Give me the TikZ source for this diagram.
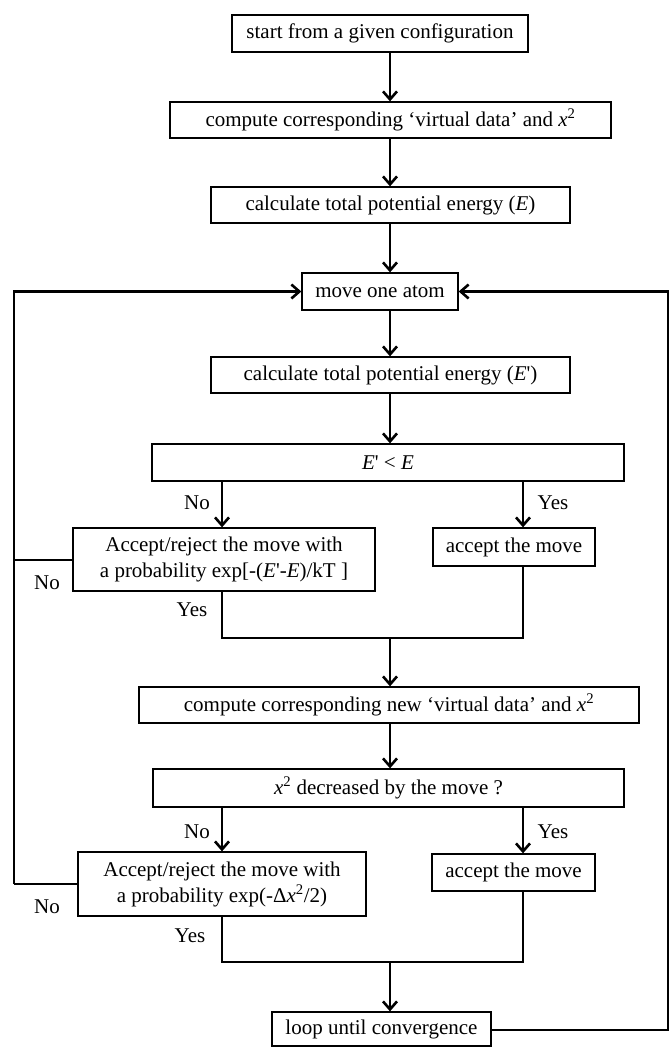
\documentclass[tikz,border=0pt]{standalone}
\usepackage{fontspec}
\setmainfont{Liberation Serif}
\usetikzlibrary{arrows.meta}
\newcommand{\prm}{\textquotesingle}
\begin{document}
\begin{tikzpicture}[x=1pt,y=-1pt,
  box/.style={draw, line width=1.3pt, inner sep=0pt, align=center,
    font=\fontsize{21}{26}\selectfont},
  lbl/.style={inner sep=0pt, font=\fontsize{21}{26}\selectfont},
  conn/.style={line width=2.8pt},
  arr/.style={line width=2.8pt, -{Straight Barb[length=8pt,width=14pt,line width=2.6pt]}}
]
\useasboundingbox (0,0) rectangle (670,1047);
% boxes
\node[box, minimum width=296pt, minimum height=37pt] (b1) at (380,33.5) {start from a given configuration};
\node[box, minimum width=441pt, minimum height=36pt] (b2) at (390.5,120) {compute corresponding ‘virtual data’ and \textit{x}\textsuperscript{2}};
\node[box, minimum width=359pt, minimum height=36pt] (b3) at (390.5,205) {calculate total potential energy (\textit{E})};
\node[box, minimum width=156pt, minimum height=37pt] (b4) at (380,291.5) {move one atom};
\node[box, minimum width=359pt, minimum height=36pt] (b5) at (390.5,375) {calculate total potential energy (\textit{E}\prm)};
\node[box, minimum width=472pt, minimum height=37pt] (b6) at (388,462.5) {\textit{E}\prm{} {\textless} \textit{E}};
\node[box, minimum width=302pt, minimum height=63pt] (b7) at (224,559.5) {Accept/reject the move with\\a probability exp[-(\textit{E}\prm-\textit{E})/kT ]};
\node[box, minimum width=162pt, minimum height=38pt] (b8) at (514,547) {accept the move};
\node[box, minimum width=500pt, minimum height=36pt] (b9) at (389,705) {compute corresponding new ‘virtual data’ and \textit{x}\textsuperscript{2}};
\node[box, minimum width=471pt, minimum height=38pt] (b10) at (388.5,788) {\textit{x}\textsuperscript{2} decreased by the move ?};
\node[box, minimum width=288pt, minimum height=64pt] (b11) at (222,884) {Accept/reject the move with\\a probability exp(-Δ\textit{x}\textsuperscript{2}/2)};
\node[box, minimum width=163pt, minimum height=37pt] (b12) at (513.5,872.5) {accept the move};
\node[box, minimum width=219pt, minimum height=34pt] (b13) at (381.5,1029) {loop until convergence};
% labels
\node[lbl] (no1) at (197,503) {No};
\node[lbl] (yes1) at (553,503) {Yes};
\node[lbl] (no2) at (47,583) {No};
\node[lbl] (yes2) at (192,610) {Yes};
\node[lbl] (no3) at (197,832) {No};
\node[lbl] (yes3) at (553,832) {Yes};
\node[lbl] (no4) at (47,907) {No};
\node[lbl] (yes4) at (190,936) {Yes};
% junction coordinates
\coordinate (m1) at (390,638);
\coordinate (m2) at (390,962);
\coordinate (lx) at (14,0);
\coordinate (rx) at (668,0);
% main arrows
\draw[arr] (b1.south -| 390,0) -- (b2.north -| 390,0);
\draw[arr] (b2.south -| 390,0) -- (b3.north -| 390,0);
\draw[arr] (b3.south -| 390,0) -- (b4.north -| 390,0);
\draw[arr] (b4.south -| 390,0) -- (b5.north -| 390,0);
\draw[arr] (b5.south -| 390,0) -- (b6.north -| 390,0);
\draw[arr] (b6.south -| 222,0) -- (b7.north -| 222,0);
\draw[arr] (b6.south -| 523,0) -- (b8.north -| 523,0);
\draw[conn] (b7.south -| 222,0) -- (m1 -| 222,0) -- (m1 -| 523,0) -- (b8.south -| 523,0);
\draw[arr] (m1) -- (b9.north -| m1);
\draw[arr] (b9.south -| 390,0) -- (b10.north -| 390,0);
\draw[arr] (b10.south -| 222,0) -- (b11.north -| 222,0);
\draw[arr] (b10.south -| 523,0) -- (b12.north -| 523,0);
\draw[conn] (b11.south -| 222,0) -- (m2 -| 222,0) -- (m2 -| 523,0) -- (b12.south -| 523,0);
\draw[arr] (m2) -- (b13.north -| m2);
% loops
\draw[conn] (b7.west |- 0,560) -- (lx |- 0,560);
\draw[arr] (lx |- 0,884) -- (lx |- b4.west) -- (b4.west);
\draw[conn] (b11.west |- 0,884) -- (lx |- 0,884);
\draw[arr] (b13.east |- 0,1030) -- (rx |- 0,1030) -- (rx |- b4.east) -- (b4.east);
\end{tikzpicture}
\end{document}
